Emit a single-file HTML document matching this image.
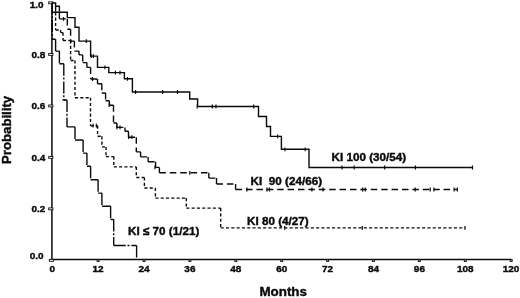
<!DOCTYPE html>
<html>
<head>
<meta charset="utf-8">
<title>KM</title>
<style>
html,body{margin:0;padding:0;background:#fff;}
body{width:520px;height:298px;overflow:hidden;font-family:"Liberation Sans",sans-serif;}
svg{display:block;will-change:transform;filter:contrast(1);}
text{font-family:"Liberation Sans",sans-serif;font-weight:bold;fill:#0a0a0a;stroke:#0a0a0a;stroke-width:0.4px;}
.tk{font-size:10px;}
.lb{font-size:11.7px;}
.ax{font-size:13px;}
.ln{fill:none;stroke:#0a0a0a;stroke-width:1.4;stroke-linecap:butt;}
.axl{fill:none;stroke:#0a0a0a;stroke-width:1.5;}
.cm{stroke:#0a0a0a;stroke-width:1.2;fill:none;}
.tb{fill:#fff;stroke:#111;stroke-width:0.9;}
</style>
</head>
<body>
<svg width="520" height="298" viewBox="0 0 520 298">
<rect width="520" height="298" fill="#fff"/>
<path class="axl" d="M51.9 2V259.5H511.5"/>
<g class="tb">
<rect x="48.7" y="1.9" width="4.2" height="1.9"/>
<rect x="48.7" y="53.5" width="4.2" height="1.9"/>
<rect x="48.7" y="105" width="4.2" height="1.9"/>
<rect x="48.7" y="156.4" width="4.2" height="1.9"/>
<rect x="48.7" y="207.9" width="4.2" height="1.9"/>
<rect x="49.3" y="259.4" width="4.2" height="1.9"/>
<rect x="97.1" y="259.6" width="2" height="1.9" fill="#aaa"/>
<rect x="143" y="259.6" width="2" height="1.9" fill="#aaa"/>
<rect x="188.9" y="259.6" width="2" height="1.9" fill="#aaa"/>
<rect x="234.8" y="259.6" width="2" height="1.9" fill="#aaa"/>
<rect x="280.7" y="259.6" width="2" height="1.9" fill="#aaa"/>
<rect x="326.6" y="259.6" width="2" height="1.9" fill="#aaa"/>
<rect x="372.5" y="259.6" width="2" height="1.9" fill="#aaa"/>
<rect x="418.4" y="259.6" width="2" height="1.9" fill="#aaa"/>
<rect x="464.3" y="259.6" width="2" height="1.9" fill="#aaa"/>
<rect x="510.2" y="259.6" width="2" height="1.9" fill="#aaa"/>
</g>
<g class="tk" text-anchor="end">
<text transform="translate(43.6 8.1) scale(1 .93)">1.0</text>
<text transform="translate(45.3 57.9) scale(1 .93)">0.8</text>
<text transform="translate(45.3 109.4) scale(1 .93)">0.6</text>
<text transform="translate(45.3 160.9) scale(1 .93)">0.4</text>
<text transform="translate(45.3 212.4) scale(1 .93)">0.2</text>
<text transform="translate(43.6 259) scale(1 .93)">0.0</text>
</g>
<g class="tk" text-anchor="middle">
<text transform="translate(52.2 272.2) scale(1 .93)">0</text>
<text transform="translate(98.1 272.2) scale(1 .93)">12</text>
<text transform="translate(144 272.2) scale(1 .93)">24</text>
<text transform="translate(189.9 272.2) scale(1 .93)">36</text>
<text transform="translate(235.8 272.2) scale(1 .93)">48</text>
<text transform="translate(281.7 272.2) scale(1 .93)">60</text>
<text transform="translate(327.6 272.2) scale(1 .93)">72</text>
<text transform="translate(373.5 272.2) scale(1 .93)">84</text>
<text transform="translate(419.4 272.2) scale(1 .93)">96</text>
<text transform="translate(465.3 272.2) scale(1 .93)">108</text>
<text transform="translate(511 272.2) scale(1 .93)">120</text>
</g>
<text class="ax" style="font-size:13.4px" x="283.2" y="296.3" text-anchor="middle">Months</text>
<text class="ax" style="font-size:13.2px" transform="translate(11.3 129.9) rotate(-90)" text-anchor="middle">Probability</text>
<path class="ln" d="M52 3H55.6V6.3H59.4V12.3H67.3V17.6H75V27.2H79V41.1H90.6V56.1H97.5V67.4H108.8V72.6H124.4V78.8H132.4V92H189.7V99H197.6V106.5H258.5V116.5H266.5V126.5H270.5V136.4H281.4V149.3H309V167.5H472.5"/>
<path class="cm" d="M86.3 39.2v3.8M91.2 54.2v3.8M93.4 54.2v3.8M105 65.5v3.8M115.4 70.7v3.8M120 70.7v3.8M127.5 76.9v3.8M135.6 90.1v3.8M162.6 90.1v3.8M177.5 90.1v3.8M197.2 104.6v3.8M212.3 104.6v3.8M216 104.6v3.8M253.7 104.6v3.8M277.7 134.5v3.8M284.9 147.4v3.8M305.2 147.4v3.8M342 165.6v3.8M354.2 165.6v3.8M384.7 165.6v3.8M415.4 165.6v3.8M472.5 165.6v3.8"/>
<path class="ln" stroke-dasharray="6.5 3.9" d="M55.6 6.3L55.6 12.3M55.6 12.3L59.4 12.3M59.4 12.3L59.4 18.9M59.4 18.9L67.3 18.9M67.3 18.9L67.3 29.3M67.3 29.3L70.6 29.3M70.6 29.3L70.6 41.1M70.6 41.1L74.4 41.1M74.4 41.1L74.4 51.1M74.4 51.1L79 51.1M79 51.1L79 54.9M79 54.9L82.7 54.9M82.7 54.9L82.7 62.6M82.7 62.6L86.9 62.6M86.9 62.6L86.9 67.4M86.9 67.4L90.6 67.4M90.6 67.4L90.6 79M90.6 79L97.5 79M97.5 79L97.5 83.7M97.5 83.7L101.8 83.7M101.8 83.7L101.8 93M101.8 93L105.6 93M105.6 93L105.6 100.8M105.6 100.8L109.4 100.8M109.4 100.8L109.4 105.2M109.4 105.2L113.5 105.2M113.5 105.2L113.5 123M113.5 123L116.9 123M116.9 123L116.9 127.4M116.9 127.4L125 127.4M125 127.4L125 131.2M125 131.2L128.5 131.2M128.5 131.2L128.5 137.2M128.5 137.2L136.3 137.2M136.3 137.2L136.3 151.9M136.3 151.9L140.6 151.9M140.6 151.9L140.6 156.9M140.6 156.9L148.1 156.9M148.1 156.9L148.1 161.8M148.1 161.8L155.6 161.8M155.6 161.8L155.6 167.4M155.6 167.4L159.4 167.4M159.4 167.4L159.4 172.8M159.4 172.8L208.8 172.8M208.8 172.8L208.8 178.1M208.8 178.1L216.5 178.1M216.5 178.1L216.5 184M216.5 184L235.6 184M235.6 184L235.6 189.5M235.6 189.5L457.4 189.5"/>
<path class="cm" d="M63.5 17v3.8M70.8 39.2v3.8M92.5 77.1v3.8M109.2 103.3v3.8M116.9 125.5v3.8M120 125.5v3.8M128.7 135.3v3.8M131.9 135.3v3.8M155 165.5v3.8M189.8 170.9v3.8M246.9 187.6v3.8M266.9 187.6v3.8M269.4 187.6v3.8M311.9 187.6v3.8M323 187.6v3.8M362.7 187.6v3.8M365.2 187.6v3.8M415.2 187.6v3.8M430.2 187.6v3.8M434 187.6v3.8M454.1 187.6v3.8M457.4 187.6v3.8"/>
<path class="ln" stroke-dasharray="3.1 2.2" d="M52 12.3L55.6 12.3M55.6 12.3L55.6 30M55.6 30L60.6 30M60.6 30L60.6 32.6M60.6 32.6L63 32.6M63 32.6L63 40.5M63 40.5L70.6 40.5M70.6 40.5L70.6 60.5M70.6 60.5L75 60.5M75 60.5L75 97.7M75 97.7L90.5 97.7M90.5 97.7L90.5 125.7M90.5 125.7L97.6 125.7M97.6 125.7L97.6 136.3M97.6 136.3L101.9 136.3M101.9 136.3L101.9 146.9M101.9 146.9L106 146.9M106 146.9L106 156.6M106 156.6L113.8 156.6M113.8 156.6L113.8 166.9M113.8 166.9L136.3 166.9M136.3 166.9L136.3 177.5M136.3 177.5L144.4 177.5M144.4 177.5L144.4 188M144.4 188L155.4 188M155.4 188L155.4 198.1M155.4 198.1L186.3 198.1M186.3 198.1L186.3 208.1M186.3 208.1L220.7 208.1M220.7 208.1L220.7 227.9M220.7 227.9L465 227.9"/>
<path class="cm" d="M93.1 123.8v3.8M96.4 123.8v3.8M284.7 226v3.8M362.3 226v3.8M465 226v3.8"/>
<path class="ln" stroke-dasharray="12 1.8 2 1.8" d="M52.3 2.5L52.3 39.3M52.3 39.3L55.6 39.3M55.6 39.3L55.6 51.1M55.6 51.1L59.4 51.1M59.4 51.1L59.4 63.8M59.4 63.8L63.8 63.8M63.8 63.8L63.8 100M63.8 100L67 100M67 100L67 126.9M67 126.9L75 126.9M75 126.9L75 140M75 140L83.1 140M83.1 140L83.1 153.1M83.1 153.1L86.9 153.1M86.9 153.1L86.9 166.3M86.9 166.3L90.6 166.3M90.6 166.3L90.6 179.8M90.6 179.8L98.1 179.8M98.1 179.8L98.1 193.1M98.1 193.1L101.9 193.1M101.9 193.1L101.9 206.3M101.9 206.3L110.6 206.3M110.6 206.3L110.6 219.5M110.6 219.5L113.7 219.5M113.7 219.5L113.7 245.5M113.7 245.5L136.6 245.5M136.6 245.5L136.6 259"/>
<path class="cm" d="M62.3 99.9h3.2"/>
<text class="lb" x="331.5" y="160.8" xml:space="preserve">KI 100 (30/54)</text>
<text class="lb" x="250.6" y="184.8" xml:space="preserve">KI  90 (24/66)</text>
<text class="lb" x="247" y="224.7" xml:space="preserve">KI 80 (4/27)</text>
<text class="lb" x="128" y="235.3" xml:space="preserve">KI ≤ 70 (1/21)</text>
</svg>
</body>
</html>
